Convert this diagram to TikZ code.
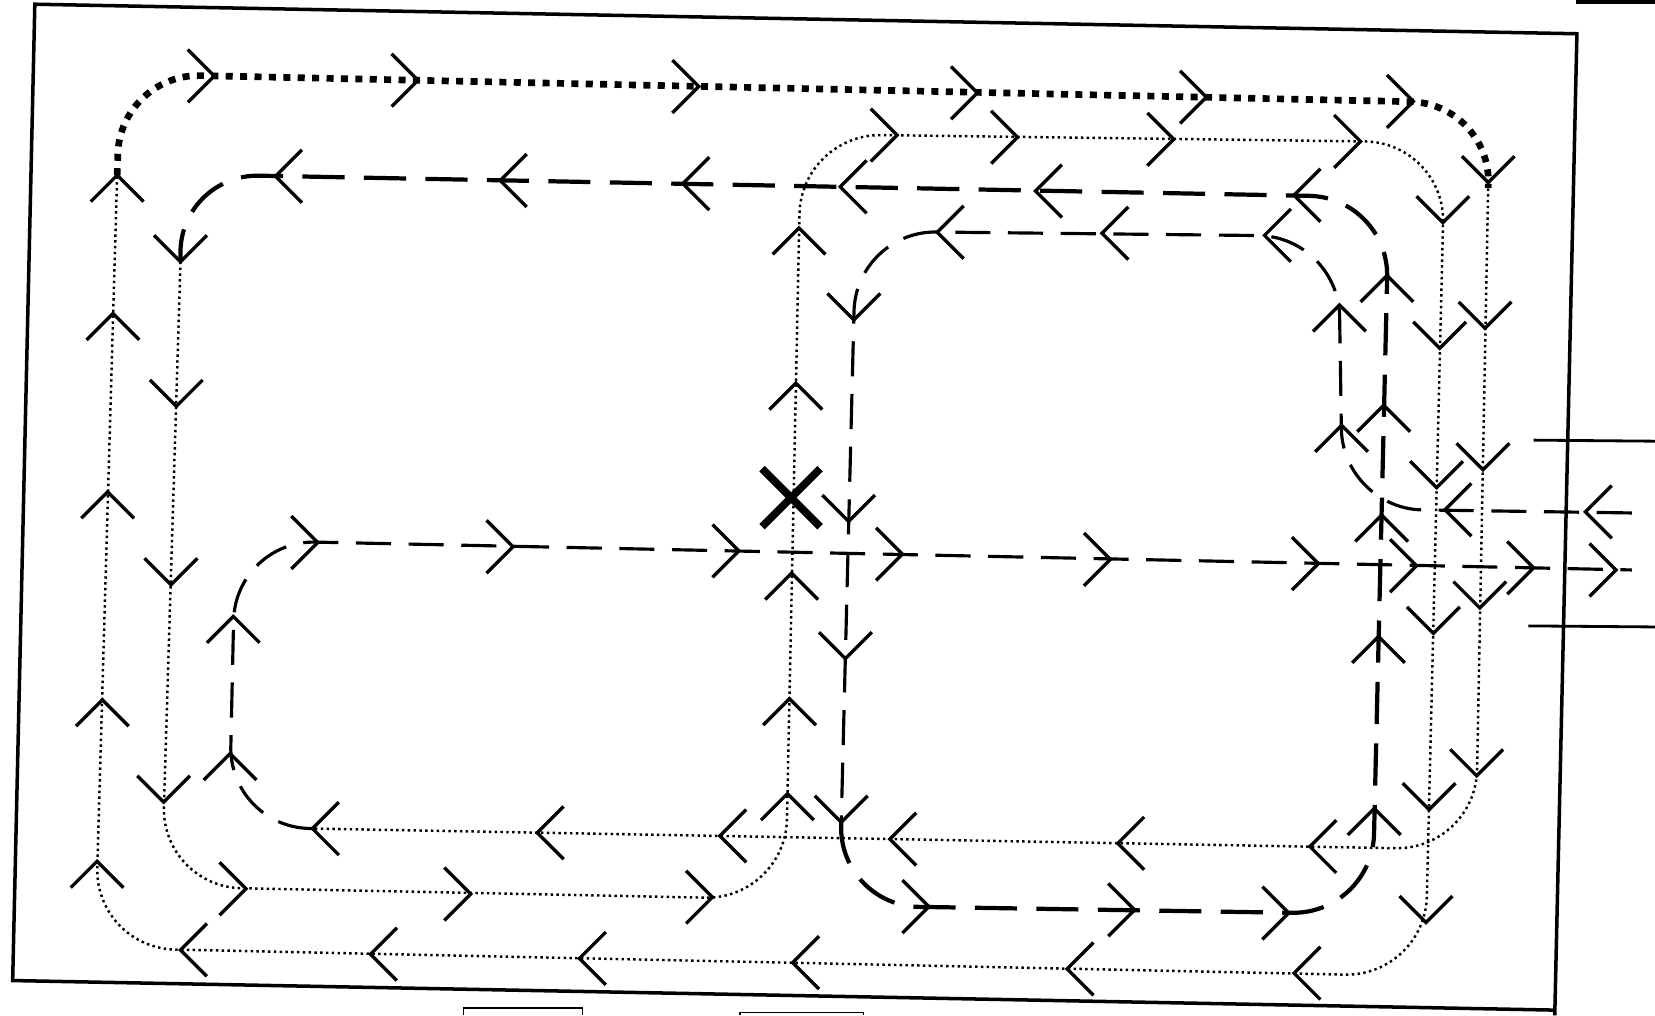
\documentclass[tikz,border=0pt]{standalone}
\usetikzlibrary{calc}
\begin{document}
\begin{tikzpicture}[
  x=0.010555cm, y=-0.010555cm,
  frame/.style    = {line width=1pt, black},
  gate/.style     = {line width=0.8pt, black},
  thindot/.style  = {line width=0.7pt, dash pattern=on 0.7pt off 0.95pt, rounded corners=0.8cm},
  fatdot/.style   = {line width=1.9pt, dash pattern=on 2pt off 2.1pt, rounded corners=0.8cm},
  dashln/.style   = {line width=0.9pt, dash pattern=on 10pt off 5pt, rounded corners=0.8cm},
  fatdash/.style  = {line width=1.2pt, dash pattern=on 12pt off 5.5pt, rounded corners=0.8cm},
  chevline/.style = {line width=0.95pt, solid, black},
  xmark/.style    = {line width=2.2pt, black},
  chev/.pic       = {\draw[chevline] (-25,25) -- (0,0) -- (-25,-25);},
]
  \useasboundingbox (0,0) rectangle (1568,962);
  % frame and gate
  \draw[frame] (1473,962) -- (1494,32) -- (33,4) -- (12,929) -- (1473,957);
  \draw[line width=1.2pt] (1493,1.5) -- (1568,1.5);
  \draw[gate] (1453,417) -- (1568,418);
  \draw[gate] (1448,593) -- (1568,594);
  \draw[thin] (439,962) |- (552,955) -- (552,962);
  \draw[thin] (701,962) |- (818,959) -- (818,962);
  % route
  \draw[dashln]  (1546,486) -- (1272,482) -- (1268,224) -- (811,219) -- (797,779);
  \draw[fatdash] (797,779) -- (795,858) -- (1300,866) -- (1316,187) -- (170,165) -- (171,248);
  \draw[thindot] (171,248) -- (153,840) -- (744,852) -- (759,127) -- (1369,135) -- (1350,925) -- (90,898) -- (111,166);
  \draw[fatdot]  (111,166) -- (114,70) -- (1412,98) -- (1410,178);
  \draw[thindot] (1410,173) -- (1398,805) -- (296,785);
  \draw[dashln]  (296,785) -- (217,783) -- (223,512) -- (1546,540);
  % cross
  \draw[xmark] (722,444) -- (777,499) (722,499) -- (777,444);
  % arrow heads
  \foreach \x/\y/\r in {1502/485/180, 1369/483/180, 1271/403/90, 1269/289/90, 1198/223/180, 1044/221/180, 888/220/180,
      809/303/-90, 804/494/-90, 801/624/-90, 797/779/-90, 880/859/0, 1075/862/0, 1221/865/0,
      1302/766/90, 1306/603/90, 1309/488/90, 1311/384/90, 1314/261/90,
      1226/185/180, 981/181/180, 796/177/180, 647/174/180, 474/171/180, 261/167/180, 171/248/-90}
    \path (\x,\y) pic[rotate=\r] {chev};
  \foreach \x/\y/\r in {167/385/-90, 162/554/-90, 155/760/-90, 233/842/0, 446/847/0, 675/850/0,
      746/752/90, 748/662/90, 750/543/90, 754/363/90, 757/216/90, 850/128/0, 964/130/0, 1112/132/0, 1289/134/0,
      1367/211/-90, 1364/330/-90, 1361/462/-90, 1358/600/-90, 1354/767/-90, 1351/874/-90,
      1226/922/180, 1011/918/180, 751/912/180, 549/908/180, 351/904/180, 171/900/180,
      92/816/90, 97/663/90, 102/466/90, 107/297/90, 111/166/90}
    \path (\x,\y) pic[rotate=\r] {chev};
  \foreach \x/\y/\r in {203/72/0, 396/76/0, 662/82/0, 926/88/0, 1143/92/0, 1339/96/0, 1410/173/-90,
      1407/311/-90, 1405/445/-90, 1402/576/-90, 1399/735/-90,
      1241/802/180, 1059/799/180, 843/795/180, 682/792/180, 509/789/180, 296/785/180,
      218/714/90, 221/584/90, 301/514/0, 486/518/0, 700/522/0, 855/525/0, 1052/530/0,
      1249/534/0, 1342/536/0, 1453/538/0, 1531/540/0}
    \path (\x,\y) pic[rotate=\r] {chev};
\end{tikzpicture}
\end{document}
